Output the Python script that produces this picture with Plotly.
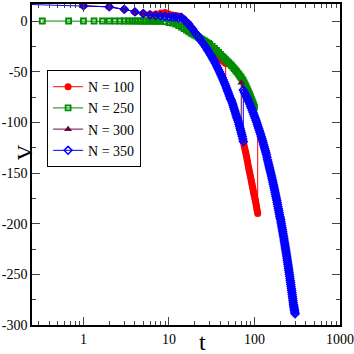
import plotly.graph_objects as go

# N = 100 (red): early points, upper branch, drop to lower branch, final jump
t_100 = [1, 2, 3, 4, 5, 6, 7, 8, 9, 10, 11, 12, 13, 14, 15, 16, 17, 18, 19,
         20, 22, 24, 26, 28, 30, 32, 34, 36, 38, 40, 42, 44, 46,
         46, 48, 50, 52, 54, 56, 58, 60, 62, 64, 66, 68, 70, 72, 74,
         75, 76, 77, 78, 79, 80, 81, 82, 83, 84, 85, 86, 87, 88, 89, 90, 91,
         92, 93, 94, 95, 96, 97, 98, 99, 100, 101, 102, 103, 104, 105, 106,
         107, 108, 109, 109]
v_100 = [15, 14, 11.5, 9, 7.5, 7, 7, 8, 8.5, 7, 6, 5.5, 5, 3.5, 2, -1, -3, -6, -9,
         -13, -16, -19, -21.5, -24, -26.5, -29, -31, -33, -35, -37, -39, -40.5, -42,
         -64, -68, -72, -76, -79, -83, -87, -91, -95, -98, -102, -106, -110, -114, -119,
         -121, -123.5, -126, -128, -130, -132, -134.5, -137, -139, -141.5, -144,
         -146, -148, -150, -152, -154, -156, -158, -160, -162, -164, -166, -168,
         -170, -171.5, -173, -175, -176.5, -178, -180, -182, -184, -186, -188,
         -190, -103]

# N = 250 (green)
t_250 = [0.33, 0.67, 1, 1.33, 1.67, 2, 2.33, 2.67, 3, 3.33, 3.67, 4, 4.33, 4.67,
         5, 5.33, 5.67, 6, 6.33, 6.67, 7, 7.33, 7.67, 8,
         9, 10, 11, 12, 13, 14, 15, 16, 17, 18, 19, 20, 21, 22, 23, 24, 25, 26,
         27, 28, 29, 30, 32, 34, 36, 38, 40, 42, 44, 46, 48, 50, 52, 54, 56, 58,
         60, 62, 64, 66, 68, 70, 72, 74, 76, 78, 80, 82, 84, 86, 88, 90, 92, 94,
         96, 98, 100]
v_250 = [0, 0, 0, 0, 0, 0, 0, 0, 0, 0, 0, 0, 0, 0,
         0, 0, 0, 0, 0, 0, 0, 0, 0, 0,
         -0.5, -1.5, -2, -3, -4.5, -6, -7.5, -9, -10.5, -12, -13, -14, -15, -16,
         -17, -18, -19, -19.5, -20.5, -21.5, -22, -23, -25, -27, -29, -31, -33,
         -35, -36.5, -38, -39.5, -41, -42.5, -44, -45.5, -47, -48.5, -50, -51.5,
         -53, -54.5, -56, -57.5, -59, -61, -63, -65, -67, -69, -71, -73, -75,
         -77, -79, -81, -83, -85]

# N = 300 (maroon)
t_300 = [1, 2, 3, 4, 5, 6, 7, 8, 9, 10, 11, 12, 13, 14, 15, 16, 18, 20,
         24, 28, 32, 36, 40, 44, 48, 52, 56, 60, 64, 68, 70,
         70, 80, 90, 100, 110, 120, 130, 140, 150, 160, 170, 180, 190, 200,
         210, 220, 230, 240, 250, 260, 270, 280, 290]
v_300 = [15, 14, 11.5, 9, 7.5, 6.5, 6, 6, 5.5, 5, 5, 4.5, 4, 5, 2, -1, -6, -11,
         -20, -28, -36, -44, -52, -60, -68, -76, -83, -91, -98, -106, -110,
         -61, -74, -84, -94, -104, -114, -124, -135, -145, -155, -165, -175,
         -185, -194, -204, -214, -224, -234, -244, -254, -264, -274, -283]

# N = 350 (blue): early points, lower branch, jump, right branch
t_350 = [0.2, 1, 2, 3, 4, 5, 6, 7, 8, 9, 10, 11, 12, 13, 14, 15, 16, 17, 18, 19,
         20, 21, 22, 23, 24, 25, 26, 27, 28, 29, 30, 31, 32, 33, 34, 35, 36, 37,
         38, 39, 40, 41, 42, 43, 44, 45, 46, 47, 48, 49, 50, 51, 52, 53, 54, 55,
         56, 57, 58, 59, 60, 61, 62, 63, 64, 65, 66, 67, 68, 69, 70, 71, 72, 73, 74,
         74, 76, 78, 80, 82, 84, 86, 88, 90, 92, 94, 96, 98, 100, 102, 104, 106,
         108, 110, 112, 114, 116, 118, 120, 122, 124, 126, 128, 130, 132, 134,
         136, 138, 140, 142, 144, 146, 148, 150, 152, 154, 156, 158, 160, 162,
         164, 166, 168, 170, 172, 174, 176, 178, 180, 182, 184, 186, 188, 190,
         192, 194, 196, 198, 200, 202, 204, 206, 208, 210, 212, 214, 216, 218,
         220, 222, 224, 226, 228, 230, 232, 234, 236, 238, 240, 242, 244, 246,
         248, 250, 252, 254, 256, 258, 260, 262, 264, 266, 268, 270, 272, 274,
         276, 278, 280, 282, 284, 286, 288, 290, 292, 294, 296, 298]
v_350 = [16.5, 15, 14, 11.5, 9, 7.5, 6, 5.5, 5, 4.5, 4, 4, 4, 3, 3.5, 1, -1, -3, -6, -8,
         -11, -13, -15, -17.5, -20, -22, -24, -26, -28, -30, -32, -34, -36, -38,
         -40, -42, -44, -46, -48, -50, -52, -54, -56, -58, -60, -62, -64, -66,
         -68, -70, -72, -74, -76, -77.5, -79, -81, -83, -85, -87, -89, -91, -93,
         -95, -96.5, -98, -100, -102, -104, -106, -108, -110, -112, -114, -116.5, -119,
         -68, -70, -72, -74, -76, -78, -80, -82, -84, -86, -88, -90, -92, -94,
         -96, -98, -100, -102, -104, -106, -108, -110, -112, -114, -116, -118,
         -120, -122, -124, -126, -128, -130, -132, -134.5, -137, -139, -141, -143,
         -145, -147, -149, -151, -153, -155, -157, -159, -161, -163, -165, -167,
         -169, -171, -173, -175, -177, -179, -181, -183, -185, -187, -189, -191,
         -193, -194.5, -196, -198, -200, -202, -204, -206, -208, -210, -212, -214,
         -216, -218, -220, -222, -224, -226, -228, -230, -232, -234, -236, -238,
         -240, -242, -244, -246, -248, -250, -252, -254, -256, -258, -260, -262,
         -264, -266, -268, -270, -272, -274, -276, -278, -280, -281.5, -283,
         -284.5, -286, -287.5, -289]

y_ticks = [0, -50, -100, -150, -200, -250, -300]
y_labels = ["0", "-50", "-100", "-150", "-200", "-250", "-300"]
x_ticks = [1, 10, 100, 1000]
x_labels = ["1", "10", "100", "1000"]

serif = "Liberation Serif, Times New Roman, serif"

fig = go.Figure()
fig.add_trace(go.Scatter(x=t_100, y=v_100, mode="lines+markers", name="N = 100",
                         line=dict(color="#ff0000", width=1),
                         marker=dict(symbol="circle", size=7, color="#ff0000")))
fig.add_trace(go.Scatter(x=t_250, y=v_250, mode="lines+markers", name="N = 250",
                         line=dict(color="#008c00", width=1),
                         marker=dict(symbol="square-open", size=5, color="#008c00",
                                     line=dict(width=1.8))))
fig.add_trace(go.Scatter(x=t_300, y=v_300, mode="lines+markers", name="N = 300",
                         line=dict(color="#670748", width=1),
                         marker=dict(symbol="triangle-up", size=7, color="#670748")))
fig.add_trace(go.Scatter(x=t_350, y=v_350, mode="lines+markers", name="N = 350",
                         line=dict(color="#0000ff", width=1),
                         marker=dict(symbol="diamond-open", size=6, color="#0000ff",
                                     line=dict(width=1.5))))

minor_x = [m * 10 ** e for e in (-1, 0, 1, 2) for m in range(2, 10)]
minor_y = [-25, -75, -125, -175, -225, -275]

axis_style = dict(showline=True, linecolor="black", linewidth=1.5, mirror="allticks",
                  ticks="inside", ticklen=8, tickcolor="#444", showgrid=False,
                  zeroline=False, automargin=False,
                  tickfont=dict(family=serif, size=14, color="black"))

fig.update_xaxes(type="log", range=[-0.602, 3], tickmode="array",
                 tickvals=x_ticks, ticktext=x_labels,
                 minor=dict(tickmode="array", tickvals=minor_x, ticks="inside",
                            ticklen=4, tickcolor="#444", showgrid=False),
                 **axis_style)
fig.update_yaxes(range=[-300, 16.8], tickmode="array",
                 tickvals=y_ticks, ticktext=y_labels,
                 minor=dict(tickmode="array", tickvals=minor_y, ticks="inside",
                            ticklen=4, tickcolor="#444", showgrid=False),
                 **axis_style)

fig.add_annotation(text="t", xref="paper", yref="paper", x=0.555, y=-0.006,
                   yanchor="top", showarrow=False,
                   font=dict(family=serif, size=24, color="black"))
fig.add_annotation(text="V", xref="paper", yref="paper", x=-0.071, y=0.536,
                   textangle=-90, showarrow=False,
                   font=dict(family=serif, size=22, color="black"))

fig.update_layout(
    width=354, height=354,
    margin=dict(l=32, r=14, t=4, b=29),
    paper_bgcolor="white", plot_bgcolor="white",
    legend=dict(x=0.049, y=0.794, xanchor="left", yanchor="top",
                bgcolor="white", bordercolor="black", borderwidth=1,
                font=dict(family=serif, size=14, color="black"),
                itemwidth=30, tracegroupgap=0),
)

# drop the page's default body margin so the figure sits at the top-left corner
fig.write_html("out.html", config={"displayModeBar": False},
               post_script="document.body.style.margin = '0';")
